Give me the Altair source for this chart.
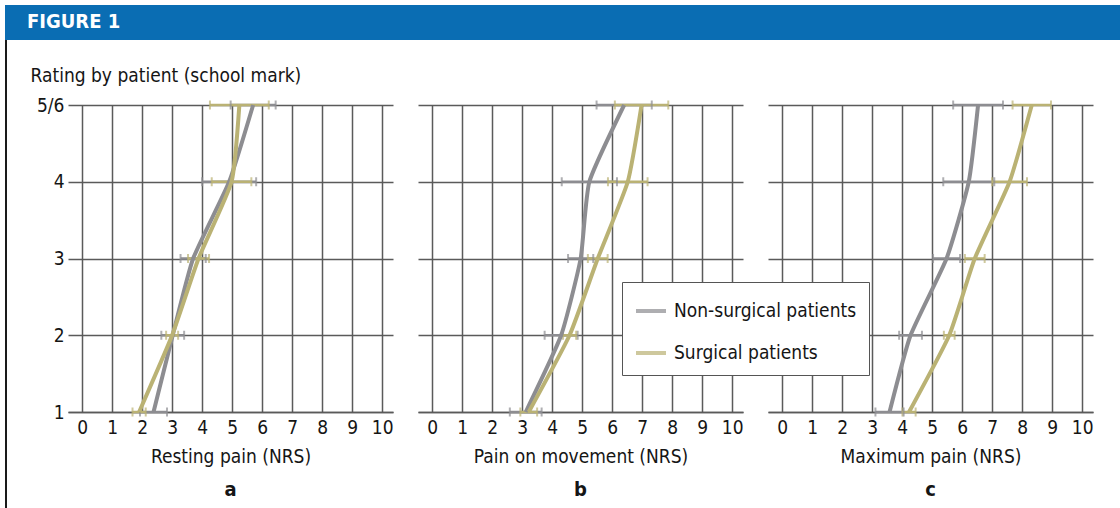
import altair as alt
import pandas as pd

FONT = "Liberation Sans Narrow, Arial Narrow, DejaVu Sans Condensed, Liberation Sans, sans-serif"
GRAY = "#8d8d91"
GOLD = "#bab274"
BLUE = "#0a6db3"
GRID = "#5a5a5a"
INK = "#151515"
FS = 19

ratings = [1, 2, 3, 4, 5]
groups = ["Non-surgical patients", "Surgical patients"]
panel_titles = ["Resting pain (NRS)", "Pain on movement (NRS)", "Maximum pain (NRS)"]
panel_letters = ["a", "b", "c"]
nrs_ticks = list(range(11))

# mean NRS per school-mark rating, with error-bar half widths
rest_non = [2.38, 3.02, 3.70, 4.90, 5.70]
rest_non_err = [0.45, 0.38, 0.42, 0.90, 0.75]
rest_surg = [1.90, 3.00, 3.88, 4.98, 5.24]
rest_surg_err = [0.22, 0.20, 0.35, 0.66, 0.98]

move_non = [3.12, 4.30, 4.95, 5.24, 6.40]
move_non_err = [0.53, 0.55, 0.42, 0.92, 0.92]
move_surg = [3.22, 4.58, 5.52, 6.52, 6.98]
move_surg_err = [0.28, 0.22, 0.33, 0.66, 0.89]

max_non = [3.58, 4.28, 5.48, 6.22, 6.53]
max_non_err = [0.47, 0.38, 0.45, 0.85, 0.83]
max_surg = [4.23, 5.57, 6.42, 7.58, 8.32]
max_surg_err = [0.22, 0.18, 0.33, 0.58, 0.64]

series = {
    (0, 0): (rest_non, rest_non_err),
    (0, 1): (rest_surg, rest_surg_err),
    (1, 0): (move_non, move_non_err),
    (1, 1): (move_surg, move_surg_err),
    (2, 0): (max_non, max_non_err),
    (2, 1): (max_surg, max_surg_err),
}

rows = []
for p, ptitle in enumerate(panel_titles):
    for g, group in enumerate(groups):
        means, errs = series[(p, g)]
        for r, m, e in zip(ratings, means, errs):
            rows.append(dict(panel=ptitle, group=group, rating=r,
                             mean=m, lo=round(m - e, 3), hi=round(m + e, 3)))
df = pd.DataFrame(rows)

W, H = 325, 307
GAP = 25
x_scale = alt.Scale(domain=[-0.47, 10.36], nice=False, zero=False)
y_scale = alt.Scale(domain=[1, 5], nice=False, zero=False)

legend = alt.Legend(
    title=None, orient="none", legendX=554, legendY=177,
    symbolType="stroke", symbolSize=900, symbolStrokeWidth=4,
    labelFont=FONT, labelFontSize=FS, labelColor=INK, labelOffset=6,
    labelLimit=400, padding=12, rowPadding=15,
    fillColor="white", strokeColor="#555555",
)
color = alt.Color("group:N", scale=alt.Scale(domain=groups, range=[GRAY, GOLD]),
                  legend=legend)

one = alt.Data(values=[{}])


def panel(i):
    ptitle = panel_titles[i]
    x_axis = alt.Axis(values=nrs_ticks, title=ptitle, grid=True, ticks=False,
                      domain=True, labelFontSize=FS, labelPadding=6,
                      titleFontSize=FS, titleFontWeight="normal", titlePadding=10)
    if i == 0:
        y_axis = alt.Axis(values=ratings, grid=True, ticks=False, domain=False,
                          labelExpr="datum.value == 5 ? '5/6' : datum.label",
                          labelFontSize=FS, labelPadding=4,
                          title="Rating by patient (school mark)", titleAngle=0,
                          titleAlign="left", titleBaseline="middle",
                          titleX=-38, titleY=-30, titleFontSize=FS,
                          titleFontWeight="normal")
    else:
        y_axis = alt.Axis(values=ratings, grid=True, ticks=False, domain=False,
                          labels=False, title=None)

    def X(field):
        return alt.X(field, scale=x_scale, axis=x_axis)

    Y = alt.Y("rating:Q", scale=y_scale, axis=y_axis)

    base = alt.Chart(df).transform_filter(alt.datum.panel == ptitle)

    letter = alt.Chart(one).mark_text(
        text=panel_letters[i], font=FONT, fontSize=FS + 1, fontWeight="bold",
        color=INK, baseline="middle"
    ).encode(x=alt.value(W / 2), y=alt.value(385))

    bars = base.mark_rule(strokeWidth=2.5).encode(
        x=X("lo:Q"), x2="hi:Q", y=Y, color=color)
    caps_lo = base.mark_tick(orient="vertical", size=9, thickness=2).encode(
        x=X("lo:Q"), y=Y, color=color)
    caps_hi = base.mark_tick(orient="vertical", size=9, thickness=2).encode(
        x=X("hi:Q"), y=Y, color=color)
    lines = base.mark_line(strokeWidth=4, interpolate="cardinal", tension=0.5).encode(
        x=X("mean:Q"), y=Y, color=color, order=alt.Order("rating:Q"))

    layers = [bars, caps_lo, caps_hi, lines, letter]

    if i == 0:
        # page furniture: blue figure banner and the left frame line
        span = 3 * W + 2 * GAP + 63 + 27
        banner = alt.Chart(one).mark_rect(color=BLUE).encode(
            x=alt.value(-63), x2=alt.value(span - 63),
            y=alt.value(-100), y2=alt.value(-65))
        banner_text = alt.Chart(one).mark_text(
            text="FIGURE 1", font=FONT, fontSize=FS + 1, fontWeight="bold",
            color="white", align="left", baseline="middle"
        ).encode(x=alt.value(-41), y=alt.value(-83))
        frame = alt.Chart(one).mark_rule(color="#1a1a1a", strokeWidth=2).encode(
            x=alt.value(-62), y=alt.value(-65), y2=alt.value(403))
        layers = [banner, banner_text, frame] + layers

    return alt.layer(*layers).properties(width=W, height=H)


chart = alt.hconcat(panel(0), panel(1), panel(2), spacing=GAP, bounds="flush").properties(
    padding={"left": 5, "top": 5, "right": 0, "bottom": 0},
    background="white",
).configure_view(
    strokeWidth=0
).configure_axis(
    gridColor=GRID, gridWidth=1.5, gridOpacity=1,
    domainColor=GRID, domainWidth=1.5,
    labelFont=FONT, titleFont=FONT, labelColor=INK, titleColor=INK,
).configure_text(font=FONT)

chart.save("out.html", embed_options={"renderer": "svg", "actions": False})
